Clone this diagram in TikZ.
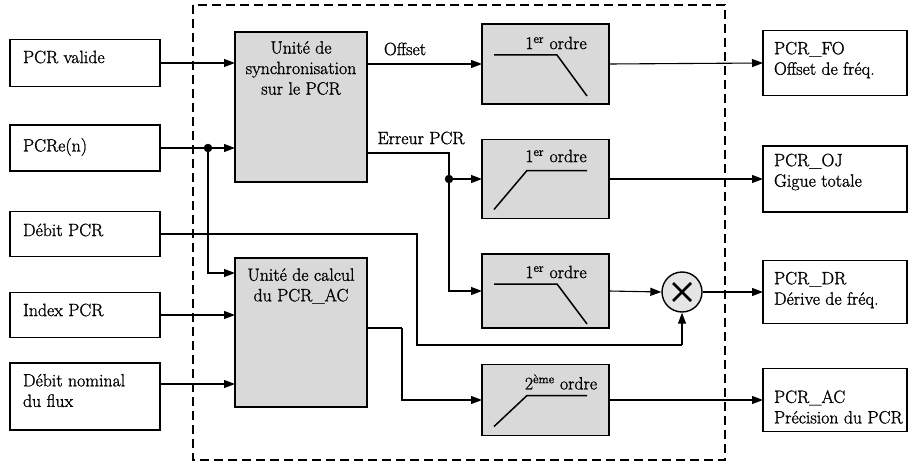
\documentclass[tikz,border=0pt]{standalone}
\usepackage{fontspec}
\newfontfamily\lmheavy{Latin Modern Roman}[FakeBold=1.2]
\usetikzlibrary{arrows.meta,calc}
\begin{document}
\begin{tikzpicture}[x=1pt,y=-1pt,
  txt/.style={font=\lmheavy\fontsize{17.8}{20.5}\selectfont, inner sep=0pt, outer sep=0pt},
  iobox/.style={draw, line width=1.8pt, inner sep=0pt, outer sep=0pt},
  inbox/.style={iobox, minimum width=150pt},
  outbox/.style={iobox, minimum width=144pt},
  graybox/.style={draw, line width=1.4pt, fill=gray!30, inner sep=0pt, outer sep=0pt},
  unitbox/.style={graybox, minimum width=132pt},
  filtbox/.style={graybox, minimum width=127pt},
  wire/.style={line width=1.1pt},
  arr/.style={wire, -{Triangle[length=11pt,width=8pt]}},
  curve/.style={line width=1.5pt},
  dotn/.style={circle, fill=black, draw=black, inner sep=0pt, minimum size=8pt},
  frame/.style={line width=2pt, dash pattern=on 9pt off 5pt}
]
\useasboundingbox (0,0) rectangle (909,468);

% dashed frame
\draw[frame] (193,5) rectangle (725,460);

% input boxes
\node[inbox, minimum height=47pt] (valid) at (85,63) {};
\node[inbox, minimum height=46pt] (pcre) at (85,148) {};
\node[inbox, minimum height=45pt] (debit) at (85,234) {};
\node[inbox, minimum height=45pt] (index) at (85,315) {};
\node[inbox, minimum height=67pt] (nominal) at (85,396.5) {};
\node[txt, anchor=west] (tvalid) at (23,57) {PCR valide};
\node[txt, anchor=west] (tpcre) at (23,147) {PCRe(n)};
\node[txt, anchor=west] (tdebit) at (23,230) {Débit PCR};
\node[txt, anchor=west] (tindex) at (23,310) {Index PCR};
\node[txt, anchor=west, align=left] (tnominal) at (23,390.5) {Débit nominal\\du flux};

% output boxes
\node[outbox, minimum height=65pt] (r1) at (835,63) {};
\node[outbox, minimum height=66pt] (r2) at (835,179) {};
\node[outbox, minimum height=63pt] (r3) at (835,292) {};
\node[outbox, minimum height=63pt] (r4) at (835,400) {};
\node[txt, anchor=west, align=left] (tr1) at (774,60) {PCR\_FO\\Offset de fréq.};
\node[txt, anchor=west, align=left] (tr2) at (774,172) {PCR\_OJ\\Gigue totale};
\node[txt, anchor=west, align=left] (tr3) at (774,290) {PCR\_DR\\Dérive de fréq.};
\node[txt, anchor=west, align=left] (tr4) at (774,407) {PCR\_AC\\Précision du PCR};

% processing units
\node[unitbox, minimum height=150pt] (sync) at (301,107) {};
\node[txt, align=center] (tsync) at (301,68) {Unité de\\synchronisation\\sur le PCR};
\node[unitbox, minimum height=149pt] (calc) at (301,332.5) {};
\node[txt, align=center] (tcalc) at (301,286) {Unité de calcul\\du PCR\_AC};

% filters
\node[filtbox, minimum height=80pt] (f1) at (545.5,64) {};
\node[filtbox, minimum height=79pt] (f2) at (545.5,179) {};
\node[filtbox, minimum height=74pt] (f3) at (545.5,291) {};
\node[filtbox, minimum height=71pt] (f4) at (545.5,400) {};
\node[txt] (tf1) at (556,43) {1\textsuperscript{er} ordre};
\node[txt] (tf2) at (556,156) {1\textsuperscript{er} ordre};
\node[txt] (tf3) at (556,272) {1\textsuperscript{er} ordre};
\node[txt] (tf4) at (561,382) {2\textsuperscript{ème} ordre};

% filter responses
\draw[curve] ($(f1.north west)+(12,31)$) -- ($(f1.north west)+(75,31)$) -- ($(f1.north west)+(105,72)$);
\draw[curve] ($(f2.north west)+(12,70)$) -- ($(f2.north west)+(45,31)$) -- ($(f2.north west)+(105,31)$);
\draw[curve] ($(f3.north west)+(12,30)$) -- ($(f3.north west)+(75,30)$) -- ($(f3.north west)+(105,70)$);
\draw[curve] ($(f4.north west)+(12,62)$) -- ($(f4.north west)+(45,31)$) -- ($(f4.north west)+(105,31)$);

% multiplier
\node[circle, draw, line width=1.4pt, fill=gray!20, minimum size=40pt, inner sep=0pt] (mult) at (682,292) {};
\draw[line width=2.6pt] ($(mult)+(-9,-9)$) -- ($(mult)+(9,9)$);
\draw[line width=2.6pt] ($(mult)+(-9,9)$) -- ($(mult)+(9,-9)$);

% junction dots and bends
\node[dotn] (pdot) at (208,148) {};
\node[dotn] (edot) at (449,179) {};
\coordinate (calcin1) at (235,273);
\coordinate (calcin3) at (235,384);
\coordinate (nomout) at (160,384);
\coordinate (serr) at (367,153);
\coordinate (cout) at (367,328);
\coordinate (cbend) at (402,328);
\coordinate (dbend1) at (417,234);
\coordinate (dbend2) at (417,345);

% connectors
\draw[arr] (valid.east) -- (valid.east -| sync.west);
\draw[wire] (pcre.east) -- (pdot);
\draw[arr] (pdot) -- (pdot -| sync.west);
\draw[arr] (pdot) |- (calcin1);
\draw[arr] (index.east) -- (index.east -| calc.west);
\draw[arr] (nomout) -- (calcin3);

\draw[arr] (sync.east |- f1.west) -- (f1.west);
\node[txt] (loffset) at (405,49) {Offset};
\draw[wire] (serr) -| (edot);
\node[txt] (lerr) at (421,138) {Erreur PCR};
\draw[arr] (edot) -- (f2.west);
\draw[arr] (edot) |- (f3.west);

\draw[wire] (debit.east) -- (dbend1) -- (dbend2) -- (dbend2 -| mult.south);
\draw[arr] (dbend2 -| mult.south) -- (mult.south);

\draw[wire] (cout) -- (cbend);
\draw[arr] (cbend) |- (f4.west);

\draw[arr] (f1.east) -- (r1.west);
\draw[arr] (f2.east) -- (r2.west);
\draw[arr] (f3.east) -- (mult.west);
\draw[arr] (mult.east) -- (r3.west);
\draw[arr] (f4.east) -- (r4.west);
\end{tikzpicture}
\end{document}
